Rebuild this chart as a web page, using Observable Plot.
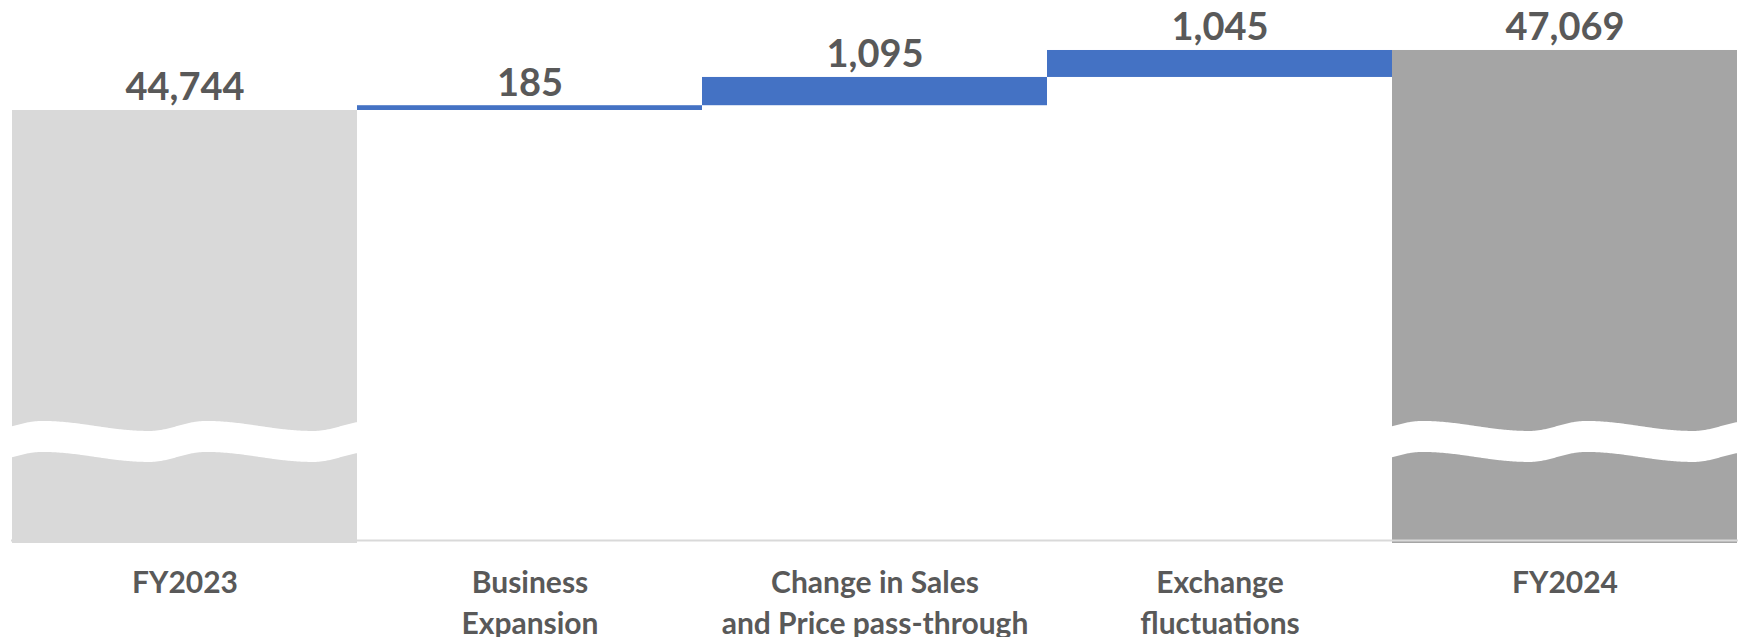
<!DOCTYPE html>
<html>
<head>
<meta charset="utf-8">
<script src="https://cdn.jsdelivr.net/npm/d3@7"></script>
<script src="https://cdn.jsdelivr.net/npm/@observablehq/plot@0.6"></script>
<style>
  html, body { margin: 0; padding: 0; background: #ffffff; overflow: hidden; }
  svg { display: block; }
</style>
</head>
<body>
<div id="chart"></div>
<script>
// ---- data ----
const categories = ["FY2023", "Business Expansion", "Change in Sales and Price pass-through", "Exchange fluctuations", "FY2024"];
const tickLabels = ["FY2023", "Business\nExpansion", "Change in Sales\nand Price pass-through", "Exchange\nfluctuations", "FY2024"];
const values = [44744, 185, 1095, 1045, 47069];
const kinds = ["start", "delta", "delta", "delta", "end"];

// broken value axis
const axisMin = 27965;
const axisMax = 49006;
const breakValue = 31900;

// ---- build waterfall rows ----
let running = 0;
const rows = categories.map((c, i) => {
  const v = values[i];
  let y1, y2;
  if (kinds[i] === "delta") {
    y1 = running; y2 = running + v; running = y2;
  } else {
    y1 = axisMin; y2 = v; running = v;
  }
  return {category: c, tick: tickLabels[i], value: v, kind: kinds[i], y1, y2};
});

const fmt = d3.format(",");

// axis-break wave drawn across the total bars
function waveMark(index, scales, channels, dimensions) {
  const {x, y} = scales;
  const g = d3.create("svg:g");
  const bw = typeof x.bandwidth === "function" ? x.bandwidth() : x.bandwidth;
  const cy = y(breakValue);
  const A = 5, half = 15.5, period = 164, fall = 107, rise = period - fall, shift = 30;
  const w = (u) => {
    let p = ((u - shift) % period + period) % period;
    if (p < fall) return -A * Math.cos(Math.PI * p / fall);
    return A * Math.cos(Math.PI * (p - fall) / rise);
  };
  rows.filter(r => r.kind !== "delta").forEach(r => {
    const L = x(r.category);
    const top = [], bot = [];
    for (let u = 0; u <= bw; u += 1) {
      top.push([L + u, cy - half + w(u)]);
      bot.push([L + u, cy + half + w(u)]);
    }
    const d = d3.line()(top.concat(bot.reverse())) + "Z";
    g.append("path").attr("d", d).attr("fill", "#ffffff");
  });
  return g.node();
}

const chart = Plot.plot({
  width: 1738,
  height: 637,
  marginLeft: 11,
  marginRight: 0,
  marginTop: 0,
  marginBottom: 94,
  style: {fontFamily: "Lato, 'Open Sans', sans-serif", background: "#ffffff"},
  x: {domain: categories, padding: 0, axis: null},
  y: {domain: [axisMin, axisMax], axis: null},
  color: {domain: ["start", "delta", "end"], range: ["#d9d9d9", "#4472c4", "#a5a5a5"]},
  marks: [
    Plot.barY(rows, {x: "category", y1: "y1", y2: "y2", fill: "kind", inset: 0}),
    waveMark,
    Plot.ruleY([axisMin], {stroke: "#d9d9d9", strokeWidth: 2, dy: -3}),
    Plot.text(rows, {x: "category", y: "y2", text: d => fmt(d.value), lineAnchor: "bottom", dy: -10,
      fontSize: 38, fontWeight: "bold", fill: "#595959"}),
    Plot.text(rows, {x: "category", text: "tick", frameAnchor: "bottom", lineAnchor: "top", dy: 20,
      lineHeight: 1.37, fontSize: 30, fontWeight: "bold", fill: "#595959"})
  ]
});
document.getElementById("chart").appendChild(chart);
</script>
</body>
</html>
